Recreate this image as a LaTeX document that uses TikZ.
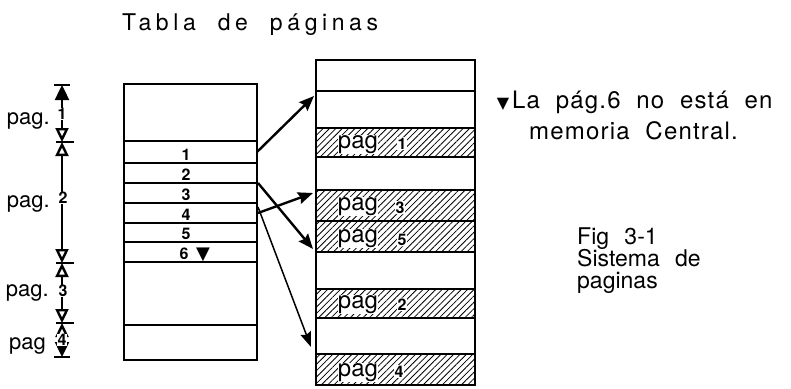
\documentclass[tikz,border=0pt]{standalone}
\usepackage{fontspec}
\setmainfont{TeX Gyre Heros}
\newfontfamily\titlefont[LetterSpace=20,WordSpace=2]{TeX Gyre Heros}
\newfontfamily\notefont[LetterSpace=5,WordSpace=2]{TeX Gyre Heros}
\newfontfamily\figfont[WordSpace=2.4]{TeX Gyre Heros}
\newfontfamily\symfont{DejaVu Sans}
\usetikzlibrary{arrows.meta,patterns.meta}
\tikzset{
  box/.style={line width=2.4pt},
  sep/.style={line width=2.2pt},
  hatch/.style={pattern={Lines[angle=45,distance=4.5pt,line width=0.8pt]}},
  entry/.style={font=\fontsize{16}{16}\selectfont\bfseries, inner sep=0pt, anchor=base},
  memlbl/.style={font=\fontsize{24}{24}\selectfont, fill=white, inner sep=0.3pt, anchor=base},
  memnum/.style={font=\fontsize{16}{16}\selectfont\bfseries, fill=white, inner sep=0.5pt, anchor=base},
  plbl/.style={font=\fontsize{22}{22}\selectfont, inner sep=0pt, anchor=base east},
  dnum/.style={font=\fontsize{16}{16}\selectfont\bfseries, fill=white, inner sep=0.6pt},
  ptr/.style={line width=2.4pt, -{Stealth[length=15pt,width=12pt,inset=2pt]}},
  ptrthin/.style={line width=1.5pt, -{Stealth[length=15pt,width=11pt,inset=2pt]}},
  dim/.style={line width=2.4pt},
  tipopen/.tip={Triangle[open,length=14pt,width=13pt,line width=2.4pt]},
  tipfull/.tip={Triangle[length=15pt,width=14pt]},
  txt/.style={inner sep=0pt, anchor=base west},
}
\begin{document}
\begin{tikzpicture}[x=1pt,y=-1pt]
\useasboundingbox (0,0) rectangle (791,388);

% title
\node[inner sep=0pt, anchor=base west, font=\fontsize{23}{23}\titlefont] (title) at (122,30) {Tabla de páginas};

% page table (left)
\draw[box] (124,84) rectangle (257,360);
\foreach \y in {141,163,183,203,223,242,262,325}{\draw[sep] (124,\y) -- (257,\y);}
\node[entry] (e1) at (186,160) {1};
\node[entry] (e2) at (186,180) {2};
\node[entry] (e3) at (186,200) {3};
\node[entry] (e4) at (186,220) {4};
\node[entry] (e5) at (186,239) {5};
\node[entry] (e6) at (184,259) {6};
\node[inner sep=0pt, anchor=base, font=\fontsize{18}{18}\symfont] (tri6) at (203,259) {▼};

% memory (right)
\foreach \ya/\yb in {128/157,190/221,221/252,289/318,354/385}{\fill[hatch] (316,\ya) rectangle (475,\yb);}
\draw[box] (316,60) rectangle (475,385);
\foreach \y in {91,128,157,190,221,252,289,318,354}{\draw[sep] (316,\y) -- (475,\y);}
\node[memlbl] (m1) at (358,148) {pag};   \node[memnum] (n1) at (402,149) {1};
\node[memlbl] (m3) at (358,210) {pag};   \node[memnum] (n3) at (400,213) {3};
\node[memlbl] (m5) at (358,242) {pag};   \node[memnum] (n5) at (402,245) {5};
\node[memlbl] (m2) at (358,308) {pag};   \node[memnum] (n2) at (402,310) {2};
\node[memlbl] (m4) at (358,376) {pag};   \node[memnum] (n4) at (399,377) {4};

% connector end points
\coordinate (s1) at (257,152);
\coordinate (s2) at (258,183);
\coordinate (s4) at (258,213);
\coordinate (s4b) at (258,207);
\coordinate (t1) at (314,96);
\coordinate (t5) at (313,249);
\coordinate (t3) at (313,193);
\coordinate (t4) at (311,347);
\draw[ptr] (s1) -- (t1);
\draw[ptr] (s2) -- (t5);
\draw[ptr] (s4) -- (t3);
\draw[ptrthin] (s4b) -- (t4);

% dimension line (left)
\coordinate (d0) at (62,85);
\coordinate (d1) at (62,142);
\coordinate (d2) at (62,263);
\coordinate (d3) at (62,323);
\coordinate (d4) at (62,357);
\draw[dim, {tipfull}-{tipopen}] (d0) -- (d1);
\draw[dim, {tipopen}-{tipopen}] (d1) -- (d2);
\draw[dim, {tipopen}-{tipopen}] (d2) -- (d3);
\draw[dim, {tipopen}-{tipfull}] (d3) -- (d4);
\draw[line width=1.4pt] (54,85) -- (70,85);
\draw[line width=1.4pt] (54,357) -- (70,357);
\foreach \y in {142,263,323}{\draw[line width=1.1pt] (56,\y) -- (74,\y);}
\node[dnum] (k1) at (62,114) {1};
\node[dnum] (k2) at (63,198) {2};
\node[dnum] (k3) at (63,291) {3};
\node[dnum] (k4) at (62,340) {4};
\node[plbl] (p1) at (50,124) {pag.};
\node[plbl] (p2) at (50,207) {pag.};
\node[plbl] (p3) at (49,296) {pag.};
\node[plbl] (p4) at (46,349) {pag};

% notes
\node[inner sep=0pt, anchor=base, font=\fontsize{16}{16}\symfont] (nt) at (503,108) {▼};
\node[txt, font=\fontsize{24}{24}\notefont] (note1) at (512,108) {La pág.6 no está en};
\node[txt, font=\fontsize{24}{24}\notefont] (note2) at (529,139) {memoria Central.};
\node[txt, font=\fontsize{23}{23}\figfont] (fig1) at (577,244) {Fig 3-1};
\node[txt, font=\fontsize{23}{23}\figfont] (fig2) at (577,266) {Sistema de};
\node[txt, font=\fontsize{23}{23}\figfont] (fig3) at (577,288) {paginas};
\end{tikzpicture}
\end{document}
